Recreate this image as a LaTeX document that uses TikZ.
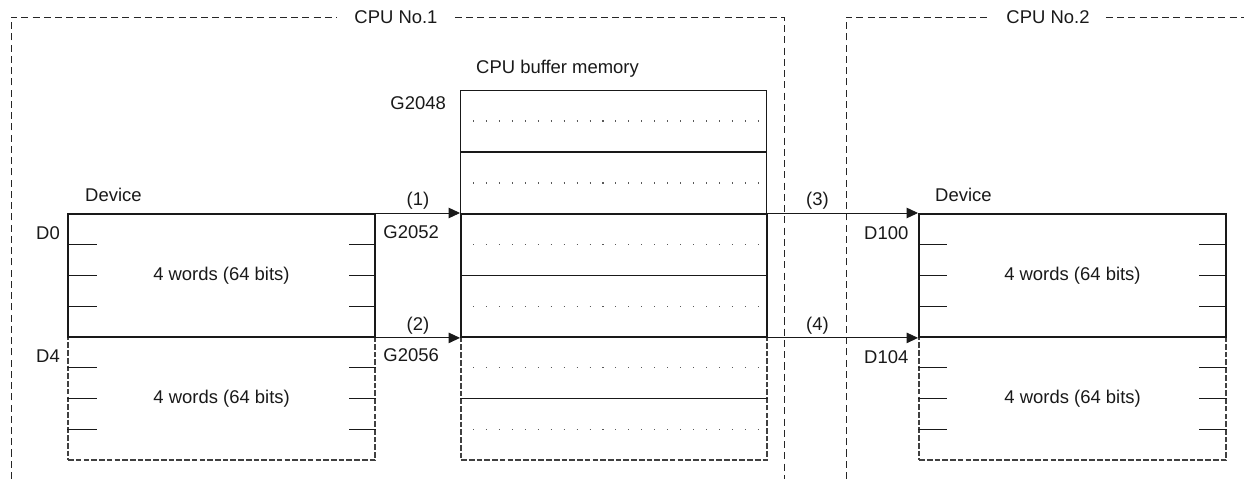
\documentclass[tikz,border=0pt]{standalone}
\usepackage{fontspec}
\setmainfont{Liberation Sans}
\usepackage{tikz}
\usetikzlibrary{positioning, calc, arrows.meta}

\begin{document}
\begin{tikzpicture}[x=0.02cm, y=-0.02cm,
    every node/.style={font=\fontsize{10.5}{12}\selectfont, text=black!90},
    cpu frame/.style={draw=black!85, line width=0.5pt, dash pattern=on 4pt off 2.4pt},
    word block/.style={draw=black!90, line width=1.1pt, minimum width=6.14cm, minimum height=2.46cm,
      inner sep=0pt, anchor=north west},
    spare block/.style={word block, draw=black!75, line width=1.3pt, dash pattern=on 3.2pt off 1.2pt},
    cell pair/.style={draw=black!90, line width=1.1pt, minimum width=6.12cm, minimum height=2.46cm,
      inner sep=0pt, anchor=north west},
    spare pair/.style={cell pair, draw=black!75, line width=1.3pt, dash pattern=on 3.2pt off 1.2pt},
    tick/.style={draw=black!90, line width=0.6pt},
    cell dots/.style={draw=black!65, line width=0.6pt, dash pattern=on 0.6pt off 6.77pt},
    xfer/.style={draw=black!90, line width=0.5pt, -{Triangle[length=6.5pt,width=6pt]}}]

      \useasboundingbox (0,0) rectangle (1244,479);

      \node[inner xsep=17pt*0.567] (cpu1) at (396,17) {CPU No.1};
      \node[inner xsep=16pt*0.567] (cpu2) at (1048,17) {CPU No.2};
      \coordinate (cpu1 foot l) at (11,479);
      \coordinate (cpu1 foot r) at (784,479);
      \coordinate (cpu2 foot l) at (846,479);
      \coordinate (cpu2 end) at (1244,17);
      \draw[cpu frame] (cpu1 foot l) |- (cpu1.west);
      \draw[cpu frame] (cpu1.east) -| (cpu1 foot r);
      \draw[cpu frame] (cpu2 foot l) |- (cpu2.west);
      \draw[cpu frame] (cpu2.east) -- (cpu2 end);

      \node[spare block] (d4) at (67,336) {4 words (64 bits)};
      \node[word block] (d0) at (67,213) {4 words (64 bits)};
      \node[spare block] (d104) at (918,336) {4 words (64 bits)};
      \node[word block] (d100) at (918,213) {4 words (64 bits)};

      \node[cell pair, line width=0.6pt] (b0) at (460,90) {};
      \node[spare pair] (b2) at (460,336) {};
      \node[cell pair] (b1) at (460,213) {};

      \foreach \d/\l/\r in {d0/30/27, d4/30/27, d100/29/28, d104/29/28}
        \foreach \f in {0.25,0.5,0.75} {
          \draw[tick] ($(\d.north west)!\f!(\d.south west)$) -- ++(\l,0);
          \draw[tick] ($(\d.north east)!\f!(\d.south east)$) -- ++(-\r,0);
        }

      \foreach \b in {b0,b1,b2} {
        \draw[tick] (\b.west) -- (\b.east);
        \foreach \f in {0.25,0.75}
          \draw[cell dots] ($(\b.north west)!\f!(\b.south west)+(13,0)$) -- ($(\b.north east)!\f!(\b.south east)+(-3,0)$);
      }

      \node[anchor=west] (bufname) at (470,69) {CPU buffer memory};
      \node[anchor=east] (g2048) at (452,103) {G2048};
      \node[anchor=east] (g2052) at (445,232) {G2052};
      \node[anchor=east] (g2056) at (445,355) {G2056};

      \node[anchor=west] (dev1) at (79,195) {Device};
      \node[anchor=west] (dev2) at (929,195) {Device};
      \node[anchor=west] (lbl d0) at (30,233) {D0};
      \node[anchor=west] (lbl d4) at (30,356) {D4};
      \node[anchor=west] (lbl d100) at (858,233) {D100};
      \node[anchor=west] (lbl d104) at (858,357) {D104};

      \draw[xfer] (d0.north east) -- node[above, inner sep=2pt] {(1)} (b1.north west);
      \draw[xfer] (d0.south east) -- node[above, inner sep=2pt] {(2)} (b1.south west);
      \draw[xfer] (b1.north east) -- node[above, inner sep=2pt, pos=0.33] {(3)} (d100.north west);
      \draw[xfer] (b1.south east) -- node[above, inner sep=2pt, pos=0.33] {(4)} (d100.south west);

    \end{tikzpicture}
\end{document}
